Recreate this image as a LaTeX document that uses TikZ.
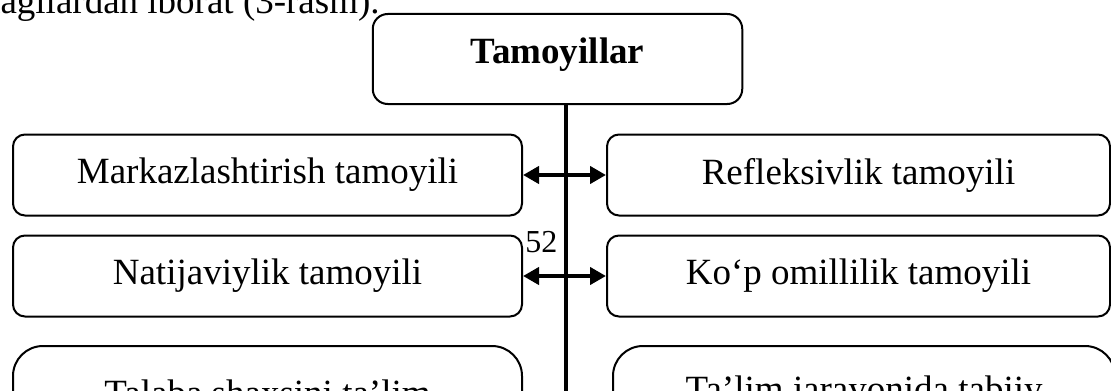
\documentclass[tikz,border=0pt]{standalone}
\usepackage{fontspec}
\setmainfont{Liberation Serif}
\usetikzlibrary{arrows.meta}

\begin{document}
\begin{tikzpicture}[x=0.5pt, y=-0.5pt,
    every node/.style={font=\fontsize{18.5}{22}\selectfont, inner sep=0pt},
    principle/.style={draw, line width=1pt, rounded corners=6pt, minimum height=40.5pt},
    leftbox/.style={principle, minimum width=254.5pt},
    rightbox/.style={principle, minimum width=251.5pt},
    bigbox/.style={draw, line width=1pt, rounded corners=15pt, minimum height=47pt},
    titlebox/.style={draw, line width=1pt, rounded corners=7.5pt, minimum width=184.75pt,
        minimum height=45pt, text depth=8.6pt, font=\fontsize{18.5}{22}\selectfont\bfseries},
    link/.style={line width=2pt, {Triangle[length=8pt,width=8.5pt]}-{Triangle[length=8pt,width=8.5pt]}},
    trunk/.style={line width=2pt}]
    \useasboundingbox (0,0) rectangle (1111,390);
    \clip (0,0) rectangle (1111,390);

    % text line above the figure, cut by the page edge
    \node[anchor=base east] (intro) at (380,14) {quyidagilardan iborat (3-rasm).};

    \node[titlebox] (tamoyil) at (557.5,59) {Tamoyillar};
    \coordinate (trunkend) at (566,400);
    \draw[trunk] (tamoyil.south -| trunkend) -- (trunkend);

    \begin{scope}
        \node[leftbox] (markaz) at (267.5,175) {Markazlashtirish tamoyili};
        \node[rightbox] (refleks) at (858.5,175) {Refleksivlik tamoyili};
        \draw[link] (markaz.east) -- (refleks.west);
    \end{scope}
    \begin{scope}
        \node[leftbox] (natija) at (267.5,276) {Natijaviylik tamoyili};
        \node[rightbox] (omil) at (858.5,276) {Ko‘p omillilik tamoyili};
        \draw[link] (natija.east) -- (omil.west);
    \end{scope}
    \begin{scope}
        \node[bigbox, minimum width=254.5pt] (talaba) at (267.5,393) {Talaba shaxsini ta’lim};
        \node[bigbox, minimum width=251pt] (tabiiy) at (864,393) {Ta’lim jarayonida tabiiy};
    \end{scope}

    \node[anchor=base west, font=\fontsize{16}{19}\selectfont] (sahifa) at (525,252) {52};
\end{tikzpicture}
\end{document}
